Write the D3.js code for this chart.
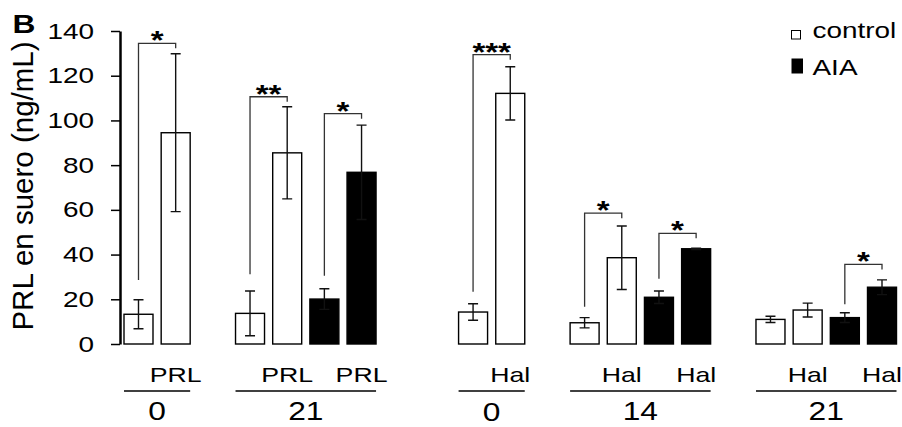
<!DOCTYPE html>
<html>
<head>
<meta charset="utf-8">
<script src="https://cdn.jsdelivr.net/npm/d3@7"></script>
<style>
  body { margin: 0; background: #fff; }
  svg { display: block; font-family: "Liberation Sans", Arial, Helvetica, sans-serif; }
</style>
</head>
<body>
<svg id="chart" width="902" height="427"></svg>
<script>
// data
const days = ['0', '21', '0', '14', '21'];
const drugs = ['PRL', 'PRL', 'Hal', 'Hal', 'Hal'];
const series = ['control', 'AIA'];
// bars in each group: control, control+drug, AIA, AIA+drug
const means = [
  [13.3, 94.5],
  [13.7, 85.5, 20.1, 76.8],
  [14.3, 112.1],
  [9.5, 38.6, 20.9, 42.6],
  [11.0, 15.2, 11.8, 25.4]
];
const errors = [
  [6.5, 35.3],
  [10.0, 20.6, 4.6, 21.1],
  [3.7, 11.9],
  [2.3, 14.2, 2.8, 0.3],
  [1.4, 3.1, 2.2, 3.3]
];
// group, left bar, right bar, start value, bracket value, mark
const brackets = [
  [0, 0, 1, 28.6, 134.5, '*'],
  [1, 0, 1, 31.2, 110.6, '**'],
  [1, 2, 3, 30.5, 103.0, '*'],
  [2, 0, 1, 23.4, 129.4, '***'],
  [3, 0, 1, 16.7, 58.5, '*'],
  [3, 2, 3, 29.2, 49.5, '*'],
  [4, 2, 3, 17.8, 35.6, '*']
];
const yTicks = [0, 20, 40, 60, 80, 100, 120, 140];

const SX = 1.27; // the figure's lettering is a bit wide
const svg = d3.select('#chart');

const bars = means.flatMap((m, g) => m.map((v, i) => ({
  g, i, key: g + '-' + i, value: v, err: errors[g][i],
  series: series[i >> 1], drug: i % 2 ? drugs[g] : ''
})));

// band domain, with empty slots between groups (two when the drug changes)
const keys = [];
means.forEach((m, g) => {
  m.forEach((v, i) => keys.push(g + '-' + i));
  if (g < means.length - 1) {
    keys.push('gap' + g);
    if (drugs[g] !== drugs[g + 1]) keys.push('gap' + g + 'b');
  }
});

const x = d3.scaleBand().domain(keys).range([124, 896.5]).paddingInner(0.22).paddingOuter(0);
const y = d3.scaleLinear().domain([0, 140]).range([344, 31]);
const bw = x.bandwidth();
const cx = d => x(d) + bw / 2;

function wideText(sel, px, py, str, size, anchor, weight) {
  return sel.append('text')
    .attr('transform', `translate(${px},${py}) scale(${SX},1)`)
    .attr('text-anchor', anchor || 'middle')
    .attr('font-size', size)
    .attr('font-weight', weight || 'normal')
    .attr('fill', '#000')
    .text(str);
}

// y axis
const yAxis = svg.append('g')
  .attr('transform', 'translate(120,0)')
  .call(d3.axisLeft(y).tickValues(yTicks).tickSize(9).tickPadding(17).tickSizeOuter(0));
yAxis.select('.domain').attr('stroke', '#000').attr('stroke-width', 2.5);
yAxis.selectAll('.tick line').attr('stroke', '#000').attr('stroke-width', 1.5);
yAxis.selectAll('.tick text').each(function () {
  const t = d3.select(this);
  const tx = +t.attr('x');
  t.attr('x', 0).attr('transform', `translate(${tx},0) scale(${SX},1)`)
    .attr('font-size', 22).attr('fill', '#000')
    .attr('font-family', '"Liberation Sans", Arial, sans-serif');
});

svg.append('text')
  .attr('transform', 'translate(32.5,186) rotate(-90)')
  .attr('text-anchor', 'middle')
  .attr('font-size', 29.5)
  .text('PRL en suero (ng/mL)');

wideText(svg, 12.5, 33, 'B', 25, 'start', 'bold');

// bars
svg.append('g').selectAll('rect')
  .data(bars)
  .join('rect')
  .attr('x', d => x(d.key))
  .attr('y', d => y(d.value))
  .attr('width', bw)
  .attr('height', d => y(0) - y(d.value))
  .attr('fill', d => d.series === 'AIA' ? '#000' : '#fff')
  .attr('stroke', '#000')
  .attr('stroke-width', 1.4);

// error bars
const eb = svg.append('g').attr('stroke', '#111').attr('stroke-width', 1.4).attr('fill', 'none');
eb.selectAll('path')
  .data(bars)
  .join('path')
  .attr('d', d => {
    const c = cx(d.key), lo = y(d.value - d.err), hi = y(d.value + d.err);
    return `M${c},${lo}V${hi}M${c - 5},${hi}H${c + 5}M${c - 5},${lo}H${c + 5}`;
  });

// significance brackets
const br = svg.append('g');
br.selectAll('path')
  .data(brackets)
  .join('path')
  .attr('fill', 'none')
  .attr('stroke', '#333')
  .attr('stroke-width', 1.3)
  .attr('d', b => {
    const xl = cx(b[0] + '-' + b[1]), xr = cx(b[0] + '-' + b[2]), top = y(b[4]);
    return `M${xl},${y(b[3])}V${top}H${xr}V${top + 5}`;
  });
brackets.forEach(b => {
  const xm = (cx(b[0] + '-' + b[1]) + cx(b[0] + '-' + b[2])) / 2;
  wideText(br, xm, y(b[4]) + 6, b[5], 26, 'middle', 'bold');
});

// treatment labels under the bars
bars.filter(d => d.drug).forEach(d => wideText(svg, cx(d.key), 381.5, d.drug, 21));

// day labels with their underlines
const dayDrop = [0, 0, 1.5, 0, 0];
days.forEach((day, g) => {
  const x0 = x(g + '-0'), x1 = x(g + '-' + (means[g].length - 1)) + bw;
  svg.append('line')
    .attr('x1', x0).attr('x2', x1)
    .attr('y1', 391).attr('y2', 391)
    .attr('stroke', '#000').attr('stroke-width', 1.5);
  wideText(svg, (x0 + x1) / 2, 419.5 + dayDrop[g], day, 25);
});

// legend
const lg = svg.append('g');
lg.append('rect').attr('x', 791.5).attr('y', 30.5).attr('width', 9).attr('height', 8.5)
  .attr('fill', '#fff').attr('stroke', '#000').attr('stroke-width', 1);
lg.append('rect').attr('x', 791.5).attr('y', 58.5).attr('width', 11.5).attr('height', 15)
  .attr('fill', '#000');
wideText(lg, 812.5, 38, series[0], 22, 'start');
wideText(lg, 812.5, 75, series[1], 22, 'start');
</script>
</body>
</html>
